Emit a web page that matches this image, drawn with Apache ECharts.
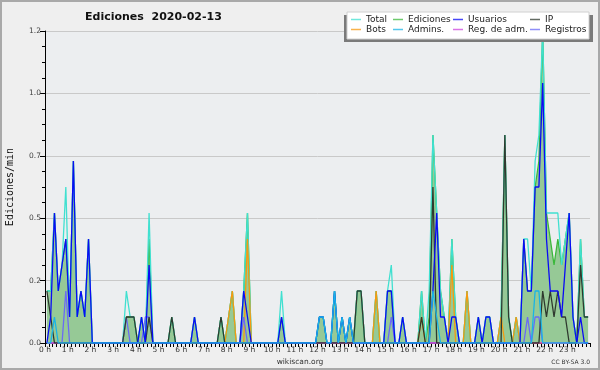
<!DOCTYPE html>
<html>
<head>
<meta charset="utf-8">
<script src="https://cdn.jsdelivr.net/npm/echarts@6/dist/echarts.min.js"></script>
<style>
html,body{margin:0;padding:0;background:#efefef;}
#c{width:600px;height:370px;}
</style>
</head>
<body>
<div id="c"></div>
<script>
// 10-minute bins (144 per day); values in edits/min
const hourLabels = ['0 h','1 h','2 h','3 h','4 h','5 h','6 h','7 h','8 h','9 h','10 h','11 h','12 h','13 h','14 h','15 h','16 h','17 h','18 h','19 h','20 h','21 h','22 h','23 h'];
const seriesNames = ['Total','Ediciones','Usuarios','IP','Bots','Admins.','Reg. de adm.','Registros'];

const total = [
0.2,0.2,0.5,0.2,0.3,0.6, 0.1,0.7,0.1,0.2,0.1,0.4,
0,0,0,0,0,0, 0,0,0,0.2,0.1,0.1,
0,0.1,0,0.5,0,0, 0,0,0,0.1,0,0,
0,0,0,0.1,0,0, 0,0,0,0,0.1,0,
0.1,0.2,0,0,0.2,0.5, 0,0,0,0,0,0,
0,0,0.2,0,0,0, 0,0,0,0,0,0,
0.1,0.1,0,0,0.2,0, 0.1,0,0.1,0,0.2,0.2,
0,0,0,0.2,0,0, 0.2,0.3,0,0,0.1,0,
0,0,0,0.2,0,0.2, 0.8,0.5,0.2,0.1,0,0.4,
0.1,0,0,0.2,0,0, 0.1,0,0.1,0.1,0,0,
0.1,0.8,0.1,0,0.1,0, 0.4,0.4,0.2,0.7,0.8,1.2,
0.5,0.5,0.5,0.5,0.3,0.4, 0.5,0.1,0,0.4,0.1,0.1
];
const ediciones = [
0.2,0.2,0.5,0.2,0.3,0.4, 0.1,0.7,0.1,0.2,0.1,0.4,
0,0,0,0,0,0, 0,0,0,0.1,0.1,0.1,
0,0.1,0,0.4,0,0, 0,0,0,0.1,0,0,
0,0,0,0.1,0,0, 0,0,0,0,0.1,0,
0.1,0.2,0,0,0.2,0.5, 0,0,0,0,0,0,
0,0,0.1,0,0,0, 0,0,0,0,0,0,
0.1,0.1,0,0,0.2,0, 0.1,0,0.1,0,0.2,0.2,
0,0,0,0.2,0,0, 0.2,0.2,0,0,0.1,0,
0,0,0,0.2,0,0.1, 0.8,0.5,0.2,0.1,0,0.4,
0.1,0,0,0.2,0,0, 0.1,0,0.1,0.1,0,0,
0.1,0.8,0.1,0,0.1,0, 0.4,0.2,0.2,0.6,0.7,1.2,
0.5,0.4,0.3,0.4,0.3,0.4, 0.5,0.1,0,0.4,0.1,0.1
];
const usuarios = [
0,0.1,0.5,0.2,0.3,0.4, 0.1,0.7,0.1,0.2,0.1,0.4,
0,0,0,0,0,0, 0,0,0,0,0,0,
0,0.1,0,0.3,0,0, 0,0,0,0,0,0,
0,0,0,0.1,0,0, 0,0,0,0,0,0,
0,0,0,0,0.2,0.1, 0,0,0,0,0,0,
0,0,0.1,0,0,0, 0,0,0,0,0,0,
0.1,0.1,0,0,0.2,0, 0.1,0,0.1,0,0,0,
0,0,0,0,0,0, 0.2,0.2,0,0,0.1,0,
0,0,0,0,0,0, 0.2,0.5,0.1,0.1,0,0.1,
0.1,0,0,0,0,0, 0.1,0,0.1,0.1,0,0,
0,0,0,0,0,0, 0.4,0.2,0.2,0.6,0.6,1.0,
0.4,0.2,0.2,0.2,0.1,0.3, 0.5,0.1,0,0.1,0,0
];
const ip = [
0.2,0.1,0,0,0,0, 0,0,0,0,0,0,
0,0,0,0,0,0, 0,0,0,0.1,0.1,0.1,
0,0,0,0.1,0,0, 0,0,0,0.1,0,0,
0,0,0,0,0,0, 0,0,0,0,0.1,0,
0,0,0,0,0,0, 0,0,0,0,0,0,
0,0,0,0,0,0, 0,0,0,0,0,0,
0,0,0,0,0,0, 0,0,0,0,0.2,0.2,
0,0,0,0,0,0, 0,0,0,0,0,0,
0,0,0,0.1,0,0, 0.6,0,0,0,0,0,
0,0,0,0,0,0, 0,0,0,0,0,0,
0,0.8,0.1,0,0,0, 0,0,0,0,0,0.2,
0.1,0.2,0.1,0.2,0.1,0.1, 0,0,0,0.3,0.1,0.1
];
const bots = [
0,0,0,0,0,0, 0,0,0,0,0,0,
0,0,0,0,0,0, 0,0,0,0,0,0,
0,0,0,0,0,0, 0,0,0,0,0,0,
0,0,0,0,0,0, 0,0,0,0,0,0,
0.1,0.2,0,0,0,0.4, 0,0,0,0,0,0,
0,0,0,0,0,0, 0,0,0,0,0,0,
0,0,0,0,0,0, 0,0,0,0,0,0,
0,0,0,0.2,0,0, 0,0,0,0,0,0,
0,0,0,0.1,0,0, 0,0,0,0,0,0.3,
0,0,0,0.2,0,0, 0,0,0,0,0,0,
0.1,0,0,0,0.1,0, 0,0,0,0,0,0,
0,0,0,0,0,0, 0,0,0,0,0,0
];
const admins = [
0,0,0.1,0,0,0, 0,0,0,0,0,0,
0,0,0,0,0,0, 0,0,0,0,0,0,
0,0,0,0,0,0, 0,0,0,0,0,0,
0,0,0,0,0,0, 0,0,0,0,0,0,
0,0,0,0,0,0, 0,0,0,0,0,0,
0,0,0,0,0,0, 0,0,0,0,0,0,
0.1,0.1,0,0,0.2,0, 0.1,0,0.1,0,0,0,
0,0,0,0,0,0, 0,0,0,0,0,0,
0,0,0,0,0,0, 0.2,0.1,0,0,0,0,
0,0,0,0,0,0, 0,0,0,0,0,0,
0,0,0,0,0,0, 0,0,0,0.2,0.2,0,
0,0,0,0,0,0, 0,0,0,0,0,0
];
const regAdm = new Array(144).fill(0);
const registros = [
0,0,0,0,0,0.2, 0,0,0,0,0,0,
0,0,0,0,0,0, 0,0,0,0.1,0,0,
0,0,0.1,0.1,0,0, 0,0,0,0,0,0,
0,0,0,0,0,0, 0,0,0,0,0,0,
0,0,0,0,0.1,0, 0,0,0,0,0,0,
0,0,0,0,0,0, 0,0,0,0,0,0,
0,0,0,0,0,0, 0,0,0,0,0,0,
0,0,0,0,0,0, 0,0.1,0,0,0,0,
0,0,0,0,0,0, 0,0,0,0,0,0,
0,0,0,0,0,0, 0,0,0,0,0,0,
0,0,0,0,0,0, 0,0.1,0,0.1,0.1,0,
0,0,0,0,0,0, 0,0,0,0,0,0
];

const colors = {
  'Total':'#40e0d0','Ediciones':'#3cb83c','Usuarios':'#0a0af5','IP':'#2f3a2f',
  'Bots':'#f59a10','Admins.':'#19b4e6','Reg. de adm.':'#cc44dd','Registros':'#6a6af5'
};

function pts(arr){ return arr.map((v,i)=>[(i*10+5)/60, v]); }

const chart = echarts.init(document.getElementById('c'), null, {renderer:'canvas'});
const F = 'DejaVu Sans';

function lineSeries(name, arr, z){
  return {name, type:'line', data:pts(arr), symbol:'none', showSymbol:false,
    lineStyle:{width:1.3, color:colors[name]}, itemStyle:{color:colors[name]},
    z:z, animation:false, silent:true};
}

const ed = lineSeries('Ediciones', ediciones, 2);
ed.areaStyle = {color:'#96c996', opacity:1};

const series = [
  ed,
  lineSeries('Total', total, 3),
  lineSeries('Bots', bots, 4),
  lineSeries('Registros', registros, 5),
  lineSeries('Reg. de adm.', regAdm, 5),
  lineSeries('IP', ip, 6),
  lineSeries('Usuarios', usuarios, 7),
  lineSeries('Admins.', admins, 8)
];

const legendPos = [
  ['Total',351,15],['Ediciones',393,15],['Usuarios',453,15],['IP',530,15],
  ['Bots',351,25],['Admins.',393,25],['Reg. de adm.',453,25],['Registros',530,25]
];
const legends = legendPos.map(([n,l,t])=>({
  data:[{name:n, itemStyle:{color:colors[n], opacity:0.75}}], left:l, top:t, padding:0,
  itemWidth:10, itemHeight:1.5, itemGap:0,
  icon:'rect', selectedMode:false, z:20,
  textStyle:{fontFamily:F, fontSize:9, color:'#222', padding:[0,0,0,0]}
}));

chart.setOption({
  animation:false,
  backgroundColor:'#efefef',
  title:{text:'Ediciones  2020-02-13', left:85, top:12, padding:0,
    textStyle:{fontFamily:F, fontWeight:'bold', fontSize:11, color:'#111'}},
  legend:legends,
  grid:{left:45, right:10, top:31, bottom:27, show:true, backgroundColor:'#eceef0', borderWidth:0,
    containLabel:false, outerBoundsMode:'none'},
  xAxis:{type:'value', min:0, max:24, interval:1,
    axisLine:{show:true, lineStyle:{color:'#000', width:1}},
    axisTick:{show:true, length:4, lineStyle:{color:'#000'}},
    minorTick:{show:true, splitNumber:6, length:4, lineStyle:{color:'#000'}},
    splitLine:{show:false},
    axisLabel:{margin:3, fontFamily:F, fontSize:7.5, color:'#333',
      formatter:(v)=> (v<24 ? hourLabels[v] : '')}
  },
  yAxis:{type:'value', min:0, max:1.2, interval:0.24,
    name:'Ediciones/min', nameLocation:'middle', nameGap:30,
    nameTextStyle:{fontFamily:'DejaVu Sans Mono', fontSize:10, color:'#111'},
    axisLine:{show:true, lineStyle:{color:'#000', width:1}},
    axisTick:{show:true, length:5, lineStyle:{color:'#000'}},
    minorTick:{show:true, splitNumber:4, length:3, lineStyle:{color:'#000'}},
    splitLine:{show:true, lineStyle:{color:'#c9c9c9', width:1}},
    axisLabel:{margin:4, fontFamily:F, fontSize:7.5, color:'#444',
      formatter:(v)=>v.toFixed(1)}
  },
  graphic:[
    {type:'rect', z:0, shape:{x:1, y:1, width:598, height:368}, style:{fill:'none', stroke:'#a9a9a9', lineWidth:2}},
    {type:'rect', z:15, shape:{x:344, y:15, width:249, height:27}, style:{fill:'#7a7a7a'}},
    {type:'rect', z:16, shape:{x:347, y:12, width:242, height:27}, style:{fill:'#ffffff', stroke:'#d0d0d0', lineWidth:1}},
    {type:'text', z:16, style:{text:'wikiscan.org', x:300, y:362, align:'center', verticalAlign:'middle', font:'7.5px "DejaVu Sans"', fill:'#333'}},
    {type:'text', z:16, style:{text:'CC BY-SA 3.0', x:590, y:362, align:'right', verticalAlign:'middle', font:'6px "DejaVu Sans"', fill:'#333'}}
  ],
  series:series
});
</script>
</body>
</html>
